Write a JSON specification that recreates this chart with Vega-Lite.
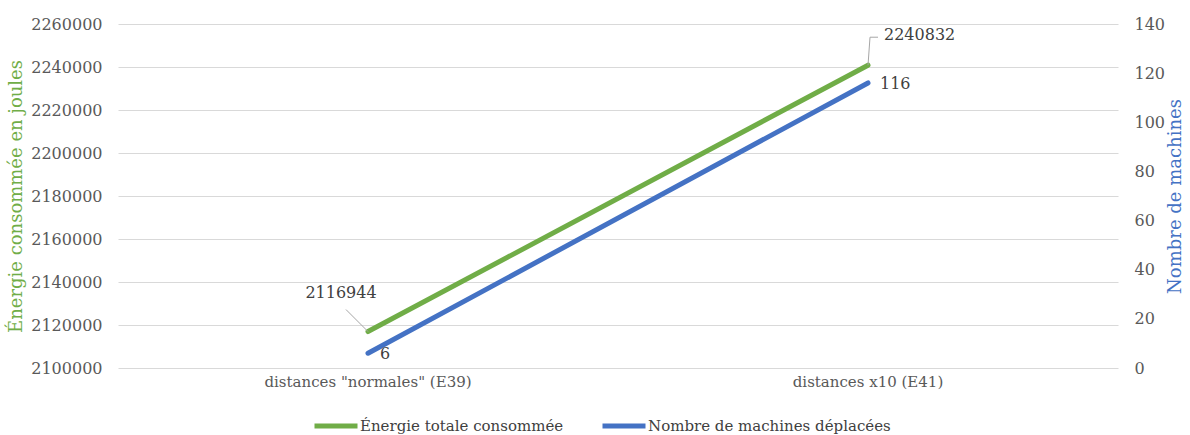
{
  "$schema": "https://vega.github.io/schema/vega-lite/v6.json",
  "width": 1000,
  "height": 344,
  "autosize": {"type": "none"},
  "padding": {"left": 118, "top": 24, "right": 72, "bottom": 67},
  "background": "white",
  "config": {
    "font": "DejaVu Serif",
    "view": {"stroke": null},
    "text": {"font": "DejaVu Serif"},
    "legend": {"labelFont": "DejaVu Serif"},
    "axis": {"labelFont": "DejaVu Serif", "labelFontSize": 16, "labelColor": "#595959", "titleFont": "DejaVu Serif", "titleFontWeight": "normal", "domain": false, "ticks": false, "gridColor": "#D9D9D9", "gridWidth": 1, "labelLimit": 400}
  },
  "data": {
    "values": [
      {"cat": "distances \"normales\" (E39)", "energie": 2116944, "machines": 6},
      {"cat": "distances x10 (E41)", "energie": 2240832, "machines": 116}
    ]
  },
  "encoding": {
    "x": {"field": "cat", "type": "nominal", "sort": null, "axis": {"title": null, "labelAngle": 0, "labelPadding": 6, "labelFontSize": 15, "grid": false}}
  },
  "layer": [
    {
      "layer": [
        {
          "mark": {"type": "line", "strokeWidth": 5, "strokeCap": "round"},
          "encoding": {
            "y": {"field": "energie", "type": "quantitative", "scale": {"domain": [2100000, 2260000], "zero": false, "nice": false}, "axis": {"title": "Énergie consommée en joules", "titleColor": "#70AD47", "titleFontSize": 18, "titlePadding": 5, "labelPadding": 16, "tickCount": 8, "format": "d", "grid": true}},
            "color": {"datum": "Énergie totale consommée", "type": "nominal", "scale": {"domain": ["Énergie totale consommée", "Nombre de machines déplacées"], "range": ["#70AD47", "#4472C4"]}, "legend": {"title": null, "orient": "none", "legendX": 194, "legendY": 378, "direction": "horizontal", "symbolType": "stroke", "symbolSize": 1849, "symbolStrokeWidth": 5, "labelFont": "DejaVu Serif", "labelFontSize": 15, "labelColor": "#404040", "columnPadding": 28, "labelOffset": 0, "labelLimit": 400}}
          }
        },
        {
          "transform": [{"filter": "datum.machines < 50"}],
          "mark": {"type": "rule", "color": "#A6A6A6", "strokeWidth": 1, "x2Offset": -22, "y2Offset": -22},
          "encoding": {
            "y": {"field": "energie", "type": "quantitative"},
            "x2": {"field": "cat"},
            "y2": {"field": "energie"}
          }
        },
        {
          "transform": [{"filter": "datum.machines > 50"}],
          "mark": {"type": "rule", "color": "#A6A6A6", "strokeWidth": 1, "x2Offset": 2, "y2Offset": -28},
          "encoding": {
            "y": {"field": "energie", "type": "quantitative"},
            "x2": {"field": "cat"},
            "y2": {"field": "energie"}
          }
        },
        {
          "transform": [{"filter": "datum.machines > 50"}],
          "mark": {"type": "rule", "color": "#A6A6A6", "strokeWidth": 1, "xOffset": 2, "yOffset": -28, "x2Offset": 10, "y2Offset": -28},
          "encoding": {
            "y": {"field": "energie", "type": "quantitative"},
            "x2": {"field": "cat"},
            "y2": {"field": "energie"}
          }
        },
        {
          "transform": [{"filter": "datum.machines < 50"}],
          "mark": {"type": "text", "fontSize": 16, "color": "#404040", "align": "center", "dx": -27, "dy": -39},
          "encoding": {
            "y": {"field": "energie", "type": "quantitative"},
            "text": {"field": "energie", "type": "quantitative", "format": "d"}
          }
        },
        {
          "transform": [{"filter": "datum.machines > 50"}],
          "mark": {"type": "text", "fontSize": 16, "color": "#404040", "align": "left", "dx": 16, "dy": -30},
          "encoding": {
            "y": {"field": "energie", "type": "quantitative"},
            "text": {"field": "energie", "type": "quantitative", "format": "d"}
          }
        }
      ]
    },
    {
      "layer": [
        {
          "mark": {"type": "line", "strokeWidth": 5, "strokeCap": "round"},
          "encoding": {
            "y": {"field": "machines", "type": "quantitative", "scale": {"domain": [0, 140], "nice": false}, "axis": {"orient": "right", "title": "Nombre de machines", "titleColor": "#4472C4", "titleFontSize": 18, "titleAngle": 270, "titleBaseline": "top", "titlePadding": 2, "labelPadding": 16, "tickCount": 8, "grid": false}},
            "color": {"datum": "Nombre de machines déplacées", "type": "nominal"}
          }
        },
        {
          "mark": {"type": "text", "fontSize": 16, "color": "#404040", "align": "left", "dx": 12, "dy": 1},
          "encoding": {
            "y": {"field": "machines", "type": "quantitative"},
            "text": {"field": "machines", "type": "quantitative"}
          }
        }
      ]
    }
  ],
  "resolve": {"scale": {"y": "independent"}}
}
